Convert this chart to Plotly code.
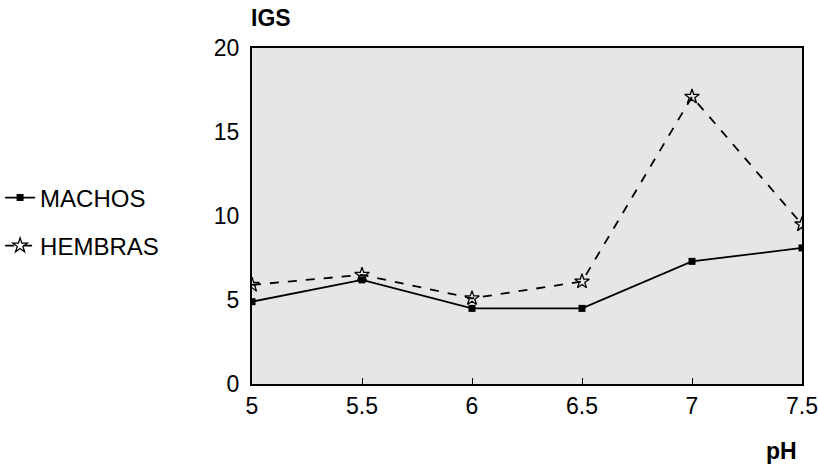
import plotly.graph_objects as go

# pH levels tested and gonadosomatic index (IGS) per sex
ph = [5, 5.5, 6, 6.5, 7, 7.5]
igs_machos = [4.9, 6.2, 4.5, 4.5, 7.3, 8.1]
igs_hembras = [5.9, 6.5, 5.1, 6.1, 17.1, 9.5]

x_ticks = [5, 5.5, 6, 6.5, 7, 7.5]
y_ticks = [0, 5, 10, 15, 20]

FONT = "Liberation Sans, Arial, sans-serif"

fig = go.Figure()
fig.add_trace(go.Scatter(
    x=ph, y=igs_machos, name="MACHOS", mode="lines+markers",
    line=dict(color="black", width=1.8),
    marker=dict(symbol="square", size=7, color="black"),
    legend="legend", showlegend=True,
))
fig.add_trace(go.Scatter(
    x=ph, y=igs_hembras, name="HEMBRAS", mode="lines+markers",
    line=dict(color="black", width=1.8, dash="dash"),
    marker=dict(symbol="star-open", size=11, color="black",
                line=dict(width=1.3, color="black")),
    legend="legend2", showlegend=True,
))

legend_style = dict(
    font=dict(family=FONT, size=24, color="black"),
    bgcolor="rgba(0,0,0,0)", xanchor="left", yanchor="middle",
    itemwidth=30,
)

fig.update_layout(
    width=818, height=465,
    margin=dict(l=252, r=16, t=48, b=81, autoexpand=False),
    showlegend=True,
    paper_bgcolor="white",
    plot_bgcolor="#e6e6e6",
    font=dict(family=FONT, size=22, color="black"),
    legend=dict(x=-0.458, y=(384 - 198) / 336, **legend_style),
    legend2=dict(x=-0.458, y=(384 - 246) / 336, **legend_style),
    xaxis=dict(
        range=[5, 7.5], tickvals=x_ticks, ticktext=[str(v) for v in x_ticks],
        showgrid=False, zeroline=False, showline=True, mirror=True,
        linecolor="black", linewidth=2, ticks="inside", ticklen=6,
        tickcolor="black", tickfont=dict(size=23),
    ),
    yaxis=dict(
        range=[0, 20], tickvals=y_ticks, ticktext=[str(v) for v in y_ticks],
        showgrid=False, zeroline=False, showline=True, mirror=True,
        linecolor="black", linewidth=2, ticks="", ticklabelstandoff=6,
        tickfont=dict(size=23),
    ),
    annotations=[
        dict(text="<b>IGS</b>", xref="paper", yref="paper",
             x=-0.005, y=1.045, xanchor="left", yanchor="bottom",
             showarrow=False, font=dict(size=23)),
        dict(text="<b>pH</b>", xref="paper", yref="paper",
             x=0.995, y=-0.155, xanchor="right", yanchor="top",
             showarrow=False, font=dict(size=23)),
    ],
)

fig.write_html("out.html")
